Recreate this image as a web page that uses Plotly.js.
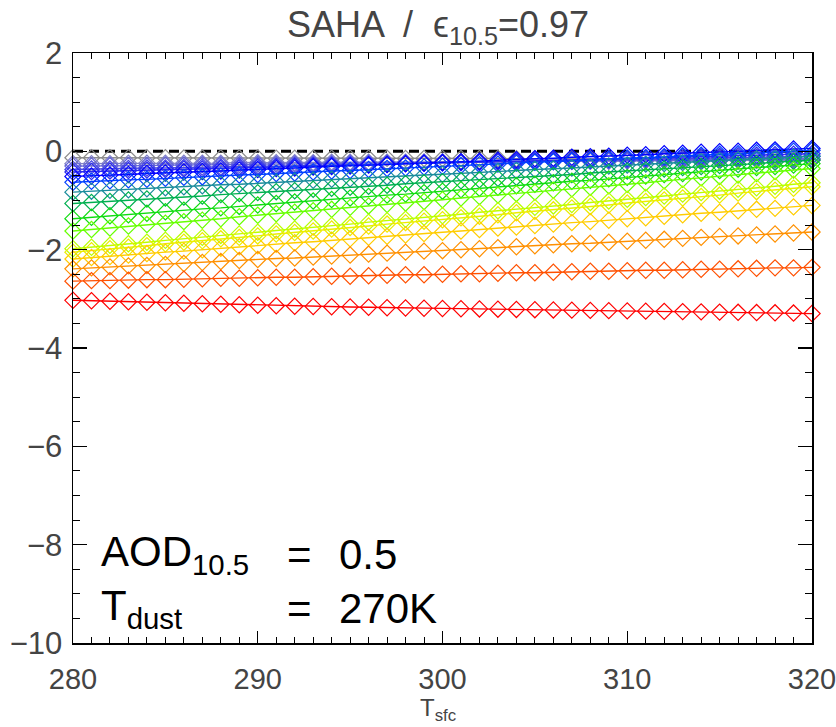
<!DOCTYPE html>
<html>
<head>
<meta charset="utf-8">
<script src="https://cdn.plot.ly/plotly-3.0.1.min.js"></script>
<style>html,body{margin:0;padding:0;background:#fff;}#chart{width:836px;height:727px;}</style>
</head>
<body>
<div id="chart"></div>
<script>
// Surface temperature (K), one point per kelvin
const tsfc = [280,281,282,283,284,285,286,287,288,289,290,291,292,293,294,295,296,297,298,299,300,
              301,302,303,304,305,306,307,308,309,310,311,312,313,314,315,316,317,318,319,320];

// Reference zero line
const zeroX = [280, 320];
const zeroY = [0, 0];

// Series values (bottom to top at 280 K)
const sRed = [-3.03,-3.04,-3.05,-3.06,-3.07,-3.08,-3.09,-3.10,-3.11,-3.12,-3.13,-3.14,-3.15,-3.155,-3.16,-3.165,-3.17,-3.18,-3.185,-3.19,-3.195,
              -3.20,-3.205,-3.21,-3.215,-3.22,-3.225,-3.23,-3.235,-3.24,-3.245,-3.25,-3.255,-3.26,-3.265,-3.27,-3.275,-3.28,-3.285,-3.29,-3.30];
const sOrangeRed = [-2.64,-2.63,-2.63,-2.62,-2.61,-2.61,-2.60,-2.59,-2.58,-2.58,-2.57,-2.56,-2.56,-2.55,-2.54,-2.54,-2.53,-2.52,-2.51,-2.51,-2.50,
              -2.49,-2.49,-2.48,-2.47,-2.47,-2.46,-2.45,-2.44,-2.44,-2.43,-2.42,-2.42,-2.41,-2.40,-2.40,-2.39,-2.38,-2.37,-2.37,-2.36];
const sOrange = [-2.39,-2.37,-2.35,-2.33,-2.32,-2.30,-2.28,-2.26,-2.24,-2.22,-2.20,-2.18,-2.17,-2.15,-2.13,-2.11,-2.09,-2.07,-2.05,-2.03,-2.02,
              -2.00,-1.98,-1.96,-1.94,-1.92,-1.90,-1.88,-1.87,-1.85,-1.83,-1.81,-1.79,-1.77,-1.75,-1.73,-1.72,-1.70,-1.68,-1.66,-1.64];
const sGold = [-2.19,-2.16,-2.14,-2.11,-2.08,-2.05,-2.03,-2.00,-1.97,-1.94,-1.92,-1.89,-1.86,-1.84,-1.81,-1.78,-1.75,-1.73,-1.70,-1.67,-1.645,
              -1.62,-1.59,-1.56,-1.54,-1.51,-1.48,-1.45,-1.43,-1.40,-1.37,-1.35,-1.32,-1.29,-1.26,-1.24,-1.21,-1.18,-1.16,-1.13,-1.10];
const sYellow = [-2.05,-2.02,-1.98,-1.95,-1.92,-1.88,-1.85,-1.82,-1.78,-1.75,-1.72,-1.68,-1.65,-1.62,-1.58,-1.55,-1.52,-1.48,-1.45,-1.42,-1.39,
              -1.35,-1.32,-1.29,-1.25,-1.22,-1.19,-1.15,-1.12,-1.09,-1.05,-1.02,-0.99,-0.95,-0.92,-0.89,-0.85,-0.82,-0.79,-0.75,-0.72];
const sYellowGreen = [-1.98,-1.95,-1.91,-1.88,-1.85,-1.81,-1.78,-1.75,-1.71,-1.68,-1.645,-1.61,-1.58,-1.54,-1.51,-1.48,-1.44,-1.41,-1.38,-1.34,-1.31,
              -1.28,-1.24,-1.21,-1.18,-1.14,-1.11,-1.08,-1.04,-1.01,-0.975,-0.94,-0.91,-0.87,-0.84,-0.81,-0.77,-0.74,-0.71,-0.67,-0.64];
const sLime = [-1.62,-1.59,-1.56,-1.52,-1.49,-1.46,-1.43,-1.40,-1.37,-1.33,-1.30,-1.27,-1.24,-1.21,-1.18,-1.14,-1.11,-1.08,-1.05,-1.02,-0.985,
              -0.95,-0.92,-0.89,-0.86,-0.83,-0.79,-0.76,-0.73,-0.70,-0.67,-0.64,-0.60,-0.57,-0.54,-0.51,-0.48,-0.45,-0.41,-0.38,-0.35];
const sGreen = [-1.37,-1.34,-1.31,-1.29,-1.26,-1.23,-1.20,-1.17,-1.15,-1.12,-1.09,-1.06,-1.03,-1.01,-0.98,-0.95,-0.92,-0.89,-0.87,-0.84,-0.81,
              -0.78,-0.75,-0.73,-0.70,-0.67,-0.64,-0.61,-0.59,-0.56,-0.53,-0.50,-0.47,-0.45,-0.42,-0.39,-0.36,-0.33,-0.31,-0.28,-0.25];
const sTealGreen = [-1.06,-1.04,-1.02,-0.99,-0.97,-0.95,-0.93,-0.91,-0.88,-0.86,-0.84,-0.82,-0.80,-0.77,-0.75,-0.73,-0.71,-0.69,-0.66,-0.64,-0.62,
              -0.60,-0.58,-0.55,-0.53,-0.51,-0.49,-0.47,-0.44,-0.42,-0.40,-0.38,-0.36,-0.33,-0.31,-0.29,-0.27,-0.25,-0.22,-0.20,-0.18];
const sTeal = [-0.83,-0.81,-0.79,-0.78,-0.76,-0.74,-0.72,-0.70,-0.68,-0.67,-0.65,-0.63,-0.61,-0.59,-0.57,-0.56,-0.54,-0.52,-0.50,-0.48,-0.465,
              -0.45,-0.43,-0.41,-0.39,-0.37,-0.36,-0.34,-0.32,-0.30,-0.28,-0.26,-0.25,-0.23,-0.21,-0.19,-0.17,-0.15,-0.14,-0.12,-0.10];
const sBlueA = [-0.63,-0.61,-0.60,-0.58,-0.57,-0.55,-0.53,-0.52,-0.50,-0.48,-0.47,-0.45,-0.44,-0.42,-0.40,-0.39,-0.37,-0.35,-0.34,-0.32,-0.305,
              -0.29,-0.27,-0.26,-0.24,-0.22,-0.21,-0.19,-0.18,-0.16,-0.14,-0.13,-0.11,-0.09,-0.08,-0.06,-0.05,-0.03,-0.01,0.00,0.02];
const sBlueB = [-0.51,-0.50,-0.48,-0.47,-0.45,-0.44,-0.42,-0.41,-0.40,-0.38,-0.37,-0.35,-0.34,-0.32,-0.31,-0.30,-0.28,-0.27,-0.25,-0.24,-0.225,
              -0.21,-0.20,-0.18,-0.17,-0.15,-0.14,-0.12,-0.11,-0.10,-0.08,-0.07,-0.05,-0.04,-0.02,-0.01,0.00,0.02,0.03,0.05,0.06];
const sViolA = [-0.42,-0.41,-0.40,-0.39,-0.38,-0.37,-0.36,-0.36,-0.35,-0.34,-0.33,-0.32,-0.31,-0.30,-0.29,-0.28,-0.27,-0.26,-0.25,-0.24,-0.235,
              -0.23,-0.22,-0.21,-0.20,-0.19,-0.18,-0.17,-0.16,-0.15,-0.14,-0.13,-0.12,-0.11,-0.11,-0.10,-0.09,-0.08,-0.07,-0.06,-0.05];
const sViolB = [-0.37,-0.36,-0.36,-0.35,-0.34,-0.34,-0.33,-0.32,-0.32,-0.31,-0.30,-0.30,-0.29,-0.28,-0.28,-0.27,-0.26,-0.26,-0.25,-0.24,-0.235,
              -0.23,-0.22,-0.21,-0.21,-0.20,-0.19,-0.19,-0.18,-0.17,-0.17,-0.16,-0.15,-0.15,-0.14,-0.13,-0.13,-0.12,-0.11,-0.11,-0.10];
const sViolC = [-0.30,-0.30,-0.29,-0.29,-0.29,-0.28,-0.28,-0.27,-0.27,-0.27,-0.26,-0.26,-0.255,-0.25,-0.25,-0.24,-0.24,-0.24,-0.23,-0.23,-0.225,
              -0.22,-0.22,-0.21,-0.21,-0.21,-0.20,-0.20,-0.195,-0.19,-0.19,-0.18,-0.18,-0.18,-0.17,-0.17,-0.165,-0.16,-0.16,-0.155,-0.15];
const sViolD = [-0.25,-0.25,-0.25,-0.24,-0.24,-0.24,-0.24,-0.24,-0.24,-0.23,-0.23,-0.23,-0.23,-0.23,-0.22,-0.22,-0.22,-0.22,-0.22,-0.215,-0.21,
              -0.21,-0.21,-0.21,-0.21,-0.20,-0.20,-0.20,-0.20,-0.20,-0.195,-0.19,-0.19,-0.19,-0.19,-0.19,-0.185,-0.18,-0.18,-0.18,-0.18];
const sGray = [-0.13,-0.13,-0.13,-0.13,-0.13,-0.13,-0.135,-0.135,-0.135,-0.135,-0.135,-0.14,-0.14,-0.14,-0.14,-0.14,-0.14,-0.14,-0.145,-0.145,-0.145,
              -0.145,-0.145,-0.145,-0.15,-0.15,-0.15,-0.15,-0.15,-0.15,-0.155,-0.155,-0.155,-0.155,-0.155,-0.155,-0.16,-0.16,-0.16,-0.16,-0.16];

const seriesList = [sGray, sViolD, sViolC, sViolB, sViolA, sBlueB, sBlueA, sTeal, sTealGreen, sGreen, sLime,
                    sYellowGreen, sYellow, sGold, sOrange, sOrangeRed, sRed];
const seriesColors = ['#8c8c8c','#8080c8','#6464d8','#4848e4','#2a2af0','#0000ff','#0040ff','#1a8c9c','#00b050','#10dc10','#66ff00',
                      '#b8ff00','#ecec00','#ffcc00','#ff9000','#ff5000','#ff0000'];

// Texts
const titleText = 'SAHA  /  \u03f5<sub>10.5</sub>=0.97';
const xTitleText = 'T<sub>sfc</sub>';
const annoRows = [['AOD<sub>10.5</sub>', '=', '0.5'], ['T<sub>dust</sub>', '=', '270K']];

const traces = [{
  x: zeroX, y: zeroY, mode: 'lines', type: 'scatter', hoverinfo: 'skip', cliponaxis: false,
  line: {color: '#000', width: 3, dash: '10px,6px'}
}];
seriesList.forEach((s, k) => {
  traces.push({
    x: tsfc, y: s, type: 'scatter', mode: 'lines+markers', cliponaxis: false,
    line: {color: seriesColors[k], width: 1.4},
    marker: {symbol: 'diamond-open', size: 12.5, color: seriesColors[k], line: {width: 1.2, color: seriesColors[k]}}
  });
});

const fam = 'Liberation Sans, Arial, sans-serif';
const annoFont = {family: 'Liberation Sans, Arial, sans-serif', size: 42, color: '#000'};

const annotations = [];
const colX = [281.4, 291.45, 294.3];
const rowY = [-8.2, -9.3];
annoRows.forEach((row, r) => {
  row.forEach((txt, c) => {
    annotations.push({x: colX[c], y: rowY[r], xref: 'x', yref: 'y', text: txt, showarrow: false,
      xanchor: 'left', yanchor: 'middle', font: annoFont});
  });
});
// x-axis title placed below the tick labels
annotations.push({x: 0.494, y: -0.143, xref: 'paper', yref: 'paper', text: xTitleText, showarrow: false,
  xanchor: 'center', yanchor: 'bottom', font: {family: fam, size: 24, color: '#444'}});

const layout = {
  width: 836, height: 727,
  margin: {l: 73, r: 24, t: 53, b: 84, pad: 0},
  paper_bgcolor: '#fff', plot_bgcolor: '#fff',
  showlegend: false,
  title: {text: titleText, x: 0.524, xanchor: 'center', y: 0.966, yanchor: 'middle', font: {family: fam, size: 36, color: '#444'}},
  xaxis: {
    range: [280, 320], tickvals: [280, 290, 300, 310, 320], ticks: 'inside', ticklen: 12, tickwidth: 1.2, tickcolor: '#000',
    minor: {dtick: 1, ticks: 'inside', ticklen: 6, tickwidth: 1, tickcolor: '#000', showgrid: false},
    showline: true, linecolor: '#000', linewidth: 1.5, mirror: 'ticks', showgrid: false, zeroline: false,
    tickfont: {family: fam, size: 29, color: '#444'}, ticklabelstandoff: 10, ticklabeloverflow: 'allow'
  },
  yaxis: {
    range: [-10, 2], tickvals: [-10, -8, -6, -4, -2, 0, 2], ticks: 'inside', ticklen: 14, tickwidth: 1.2, tickcolor: '#000',
    minor: {dtick: 0.5, ticks: 'inside', ticklen: 7, tickwidth: 1, tickcolor: '#000', showgrid: false},
    showline: true, linecolor: '#000', linewidth: 1.5, mirror: 'ticks', showgrid: false, zeroline: false,
    tickfont: {family: fam, size: 31, color: '#444'}, ticklabelstandoff: 3, ticklabeloverflow: 'allow'
  },
  annotations: annotations
};

Plotly.newPlot('chart', traces, layout, {displayModeBar: false, staticPlot: true});
</script>
</body>
</html>
